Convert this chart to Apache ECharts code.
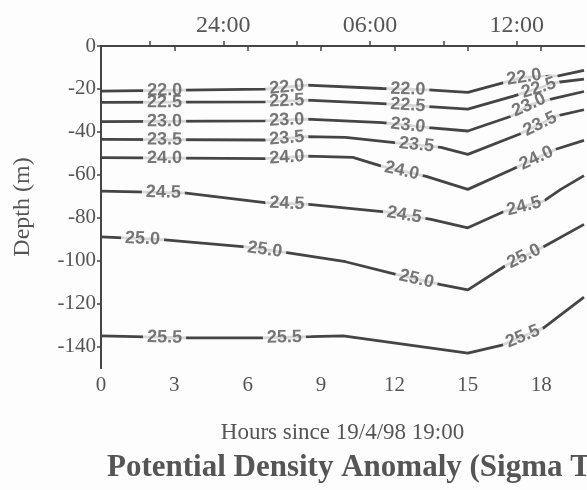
<!DOCTYPE html>
<html><head><meta charset="utf-8">
<script src="https://cdn.jsdelivr.net/npm/echarts@6/dist/echarts.min.js"></script>
<style>html,body{margin:0;padding:0;background:#fdfdfd}#c{width:587px;height:490px}</style>
</head><body><div id="c"></div>
<script>
// ---- data (hours since 19/4/98 19:00, depth in m) ----
const levels = ['22.0','22.5','23.0','23.5','24.0','24.5','25.0','25.5'];
const line220 = [[0,-21],[6.7,-20.1],[8.4,-18.2],[11.5,-19.8],[13.4,-20.4],[15,-21.6],[17.3,-14.5],[18.7,-13.9],[19.75,-11.3]];
const line225 = [[0,-26.3],[6.7,-26],[8.4,-25.2],[11.5,-26.8],[13.4,-28.2],[15,-29.4],[16.9,-23.2],[18.6,-17],[19.75,-15.4]];
const line230 = [[0,-35.2],[6.7,-34.9],[8.4,-34.1],[11.5,-35.7],[13.4,-38],[15,-39.6],[16.8,-32.6],[17.5,-27.5],[18.4,-24.8],[19.75,-21.2]];
const line235 = [[0,-43.5],[6.7,-43.8],[8.4,-42.2],[10,-42.6],[12,-45],[13.9,-47.2],[15,-50.5],[17.1,-41.1],[18.6,-32.7],[19.75,-29.7]];
const line240 = [[0,-52],[6.7,-52.5],[8.4,-51.3],[10.3,-51.9],[11.5,-56.1],[13.3,-60.7],[15,-66.8],[16.8,-57.5],[18.6,-48.1],[19.75,-44]];
const line245 = [[0,-67.6],[3.4,-68.4],[6.7,-73],[8.5,-73.8],[11.7,-77.4],[13.5,-80.8],[15,-84.7],[16.5,-77],[18.1,-72.3],[18.8,-66.8],[19.75,-60.4]];
const line250 = [[0,-88.9],[2.5,-90.2],[5.9,-93.6],[7.6,-96.3],[10,-100.5],[12.1,-106.5],[13.9,-111.2],[15,-113.6],[16.6,-101.9],[18.1,-93.5],[19.75,-83.1]];
const line255 = [[0,-135],[3.6,-136],[6.6,-136],[8.6,-135.4],[9.9,-135],[15,-143.1],[16.4,-139.3],[18.1,-131.3],[19.75,-117]];
const lines = [line220,line225,line230,line235,line240,line245,line250,line255];
// hours at which each contour carries its label
const labelHours = [
  [2.6,7.6,12.55,17.3],
  [2.6,7.6,12.55,17.9],
  [2.6,7.6,12.55,17.5],
  [2.6,7.6,12.9,17.95],
  [2.6,7.6,12.3,17.8],
  [2.55,7.6,12.4,17.3],
  [1.7,6.7,12.9,17.3],
  [2.6,7.5,17.25]
];
const xMax = 19.75;
const yMin = -150;
const bottomTicks = [0,3,6,9,12,15,18];
const leftTicks = [0,-20,-40,-60,-80,-100,-120,-140];
const topTickHours = [2,5,8,11,14,17];
const topLabelHours = [5,11,17];
const topLabels = ['24:00','06:00','12:00'];
const xName = 'Hours since 19/4/98 19:00';
const yName = 'Depth (m)';
const titleText = 'Potential Density Anomaly (Sigma T)';

function interp(line, x) {
  for (let i = 0; i < line.length - 1; i++) {
    const a = line[i], b = line[i+1];
    if (x >= a[0] && x <= b[0]) return a[1] + (b[1]-a[1])*(x-a[0])/(b[0]-a[0]);
  }
  return line[line.length-1][1];
}

const serif = 'Liberation Serif';
const ink = '#454545';
const txt = '#555555';
const chart = echarts.init(document.getElementById('c'), null, {renderer:'canvas'});

function labelPoints(withRot) {
  const pts = [];
  levels.forEach((lv, i) => {
    labelHours[i].forEach(h => {
      const y = interp(lines[i], h);
      let rot = 0;
      if (withRot) {
        const p1 = chart.convertToPixel({gridIndex:0}, [h-0.35, interp(lines[i], h-0.35)]);
        const p2 = chart.convertToPixel({gridIndex:0}, [h+0.35, interp(lines[i], h+0.35)]);
        rot = -Math.atan2(p2[1]-p1[1], p2[0]-p1[0]) * 180 / Math.PI;
      }
      pts.push({value:[h, y], name: lv, label:{rotate: rot}});
    });
  });
  return pts;
}

function buildOption(withRot) {
  const pts = labelPoints(withRot);
  const series = lines.map((ln, i) => ({
    type:'line', name: levels[i], data: ln, symbol:'none', silent:true, z:2,
    lineStyle:{color: ink, width:2.8}, animation:false
  }));
  const lblFont = {fontFamily:'Liberation Sans', fontWeight:'bold', fontSize:18};
  series.push({
    type:'scatter', data: pts, symbolSize:0, silent:true, z:3, animation:false,
    label:Object.assign({show:true, position:'inside', formatter: p => p.name,
      color:'rgba(0,0,0,0)', backgroundColor:'#fdfdfd', padding:[0,4]}, lblFont)
  });
  series.push({
    type:'scatter', data: pts, symbolSize:0, silent:true, z:4, animation:false,
    label:Object.assign({show:true, position:'inside', formatter: p => p.name,
      color:'#555555', padding:[0,4]}, lblFont)
  });
  return {
    backgroundColor:'#fdfdfd',
    animation:false,
    title:{text:titleText, left:102, top:447, textStyle:{fontFamily:serif, fontWeight:'bold', fontSize:31, color:txt}},
    grid:{left:101, right:3, top:46, bottom:122},
    xAxis:[{
      type:'value', min:0, max:xMax, position:'bottom',
      axisLine:{show:true, lineStyle:{color:ink, width:2}},
      axisTick:{show:true, length:5, customValues: bottomTicks, lineStyle:{color:ink, width:1.5}},
      axisLabel:{customValues: bottomTicks, fontFamily:serif, fontSize:21, color:txt, margin:7},
      splitLine:{show:false},
      name:xName, nameLocation:'middle', nameGap:53,
      nameTextStyle:{fontFamily:serif, fontSize:23, color:txt}
    },{
      type:'value', min:0, max:xMax, position:'top',
      axisLine:{show:true, lineStyle:{color:ink, width:2}},
      axisTick:{show:true, length:5, customValues: topTickHours, lineStyle:{color:ink, width:1.5}},
      axisLabel:{customValues: topLabelHours, fontFamily:serif, fontSize:24, color:txt, margin:8,
        formatter: v => topLabels[topLabelHours.indexOf(Math.round(v))] || ''},
      splitLine:{show:false}
    }],
    yAxis:[{
      type:'value', min:yMin, max:0, position:'left',
      axisLine:{show:true, lineStyle:{color:ink, width:2}},
      axisTick:{show:true, length:4, customValues: leftTicks, lineStyle:{color:ink, width:1.5}},
      axisLabel:{customValues: leftTicks, fontFamily:serif, fontSize:21, color:txt, margin:5},
      splitLine:{show:false},
      name:yName, nameLocation:'middle', nameGap:66, nameRotate:90,
      nameTextStyle:{fontFamily:serif, fontSize:24, color:txt}
    },{
      type:'value', min:yMin, max:0, position:'right',
      axisLine:{show:true, lineStyle:{color:ink, width:2}},
      axisTick:{show:false}, axisLabel:{show:false}, splitLine:{show:false}
    }],
    series
  };
}

chart.setOption(buildOption(false));
chart.setOption(buildOption(true));
</script></body></html>
